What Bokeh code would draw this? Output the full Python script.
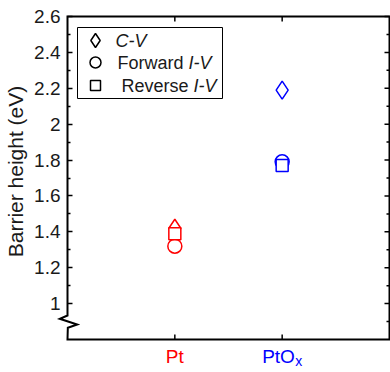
import math
from bokeh.plotting import figure
from bokeh.models import (Range1d, FixedTicker, Label, BoxAnnotation, ColumnDataSource)
from bokeh.embed import file_html
from bokeh.resources import INLINE

# ---- data ----
categories = ["Pt", "PtOx"]
cat_main = ["Pt", "PtO"]
cat_sub = ["", "x"]
cat_colors = ["#ff0000", "#0000ff"]
cv_height = [1.42, 2.19]
forward_iv = [1.32, 1.79]
reverse_iv = [1.39, 1.77]

y_major = [1.0, 1.2, 1.4, 1.6, 1.8, 2.0, 2.2, 2.4, 2.6]
y_tick_labels = ["1", "1.2", "1.4", "1.6", "1.8", "2", "2.2", "2.4", "2.6"]
y_minor_left = [1.1, 1.3, 1.5, 1.7, 1.9, 2.1, 2.3, 2.5]
y_minor_right = [0.9, 1.1, 1.3, 1.5, 1.7, 1.9, 2.1, 2.3, 2.5]

legend_markers = ["diamond", "circle", "square"]
legend_normal = ["", "Forward ", "Reverse "]
legend_italic = ["C-V", "I-V", "I-V"]

FONT = "Liberation Sans"
TXT = "#1a1a1a"

# ---- axes box (data limits) and pixel layout ----
X0, X1 = 0.0, len(categories) + 1.0
Y0, Y1 = 0.8, 2.6
W, H = 390, 372
# canvas pixel positions of the box (canvas origin at top-left)
BOX_L, BOX_R, BOX_T, BOX_B = 67, 389, 16, 339
sx = (X1 - X0) / (BOX_R - BOX_L)
sy = (Y1 - Y0) / (BOX_B - BOX_T)
xr = Range1d(X0 - BOX_L * sx, X1 + (W - BOX_R) * sx)
yr = Range1d(Y0 - (H - BOX_B) * sy, Y1 + BOX_T * sy)

def px_x(px):
    return X0 + (px - BOX_L) * sx

def px_y(py):
    return Y1 - (py - BOX_T) * sy

x_pos = [i + 1 for i in range(len(categories))]
src = ColumnDataSource(dict(x=x_pos, cv=cv_height, fwd=forward_iv,
                            rev=reverse_iv, color=cat_colors))

p = figure(width=W, height=H, x_range=xr, y_range=yr, output_backend="svg",
           toolbar_location=None, min_border=0, min_border_left=0,
           min_border_right=0, min_border_top=0, min_border_bottom=0)
p.outline_line_color = None
p.xgrid.grid_line_color = None
p.ygrid.grid_line_color = None
p.xaxis.visible = False

# left axis (fixed at the box edge)
ya = p.yaxis[0]
ya.fixed_location = X0
ya.ticker = FixedTicker(ticks=y_major, minor_ticks=y_minor_left)
ya.axis_line_color = None
ya.major_tick_in = 5
ya.major_tick_out = 0
ya.minor_tick_in = 3
ya.minor_tick_out = 0
ya.major_tick_line_width = 1.5
ya.minor_tick_line_width = 1.5
ya.major_tick_line_color = "black"
ya.minor_tick_line_color = "black"
ya.major_label_overrides = {t: l for t, l in zip(y_major, y_tick_labels)}
ya.major_label_text_font = FONT
ya.major_label_text_font_size = "19px"
ya.major_label_text_color = TXT
ya.major_label_standoff = 7

# box with axis break on the left spine
BREAK = [(X0, 0.9337), (X0 - 0.0717, 0.9153), (X0 + 0.0904, 0.8835), (X0 + 0.003, 0.8652)]
bx = [X1, X0, X0] + [b[0] for b in BREAK] + [X0, X1, X1, X0]
by = [Y1, Y1, BREAK[0][1]] + [b[1] for b in BREAK] + [Y0, Y0, Y1, Y1]
p.line(bx, by, line_color="black", line_width=2, line_join="miter")

# inward ticks on right / top / bottom
p.ray(x=[X1] * len(y_major), y=y_major, length=5, angle=math.pi,
      length_units="screen", line_color="black", line_width=1.5)
p.ray(x=[X1] * len(y_minor_right), y=y_minor_right, length=3, angle=math.pi,
      length_units="screen", line_color="black", line_width=1.5)
p.ray(x=x_pos, y=[Y1] * len(x_pos), length=5, angle=-math.pi / 2,
      length_units="screen", line_color="black", line_width=1.5)
p.ray(x=x_pos, y=[Y0] * len(x_pos), length=5, angle=math.pi / 2,
      length_units="screen", line_color="black", line_width=1.5)

# y axis title
p.add_layout(Label(x=px_x(3), y=px_y(171), text="Barrier height (eV)",
                   angle=math.pi / 2, text_align="center", text_baseline="top",
                   text_font=FONT, text_font_size="21px", text_color=TXT))

# data
p.scatter("x", "cv", source=src, marker="diamond", size=18, line_color="color",
          fill_color="white", line_width=1.5)
p.scatter("x", "fwd", source=src, marker="circle", size=14, line_color="color",
          fill_color="white", line_width=1.5)
p.scatter("x", "rev", source=src, marker="square", size=12, line_color="color",
          fill_color="white", line_width=1.5)

# category labels
for xp, main, sub, col in zip(x_pos, cat_main, cat_sub, cat_colors):
    if sub:
        p.add_layout(Label(x=xp, y=Y0, x_offset=-20, y_offset=-17, text=main,
                           text_align="left", text_baseline="alphabetic",
                           text_font=FONT, text_font_size="19px", text_color=col))
        p.add_layout(Label(x=xp, y=Y0, x_offset=13, y_offset=-21, text=sub,
                           text_align="left", text_baseline="alphabetic",
                           text_font=FONT, text_font_size="14px", text_color=col))
    else:
        p.add_layout(Label(x=xp, y=Y0, y_offset=-17, text=main,
                           text_align="center", text_baseline="alphabetic",
                           text_font=FONT, text_font_size="19px", text_color=col))

# legend
p.add_layout(BoxAnnotation(left=px_x(77), right=px_x(222), top=px_y(27),
                           bottom=px_y(98), fill_color="white", fill_alpha=1,
                           line_color="black", line_width=1, line_alpha=1,
                           level="underlay"))
leg_y = [px_y(40), px_y(62), px_y(85)]
leg_text_x = [px_x(115), px_x(117), px_x(121)]
leg_offsets = [0, 71, 72]
leg_src = ColumnDataSource(dict(x=[px_x(95)] * 3, y=leg_y, marker=legend_markers,
                                size=[14, 11, 10]))
p.scatter("x", "y", source=leg_src, marker="marker", size="size",
          line_color="black", fill_color="white", line_width=1.5)
for y, tx, norm, ital, off in zip(leg_y, leg_text_x, legend_normal, legend_italic, leg_offsets):
    if norm:
        p.add_layout(Label(x=tx, y=y, text=norm, text_baseline="middle",
                           text_font=FONT, text_font_size="18px", text_color=TXT))
    p.add_layout(Label(x=tx, y=y, x_offset=off, text=ital, text_baseline="middle",
                       text_font=FONT, text_font_size="18px", text_font_style="italic",
                       text_color=TXT))

open("out.html", "w").write(file_html(p, INLINE))
